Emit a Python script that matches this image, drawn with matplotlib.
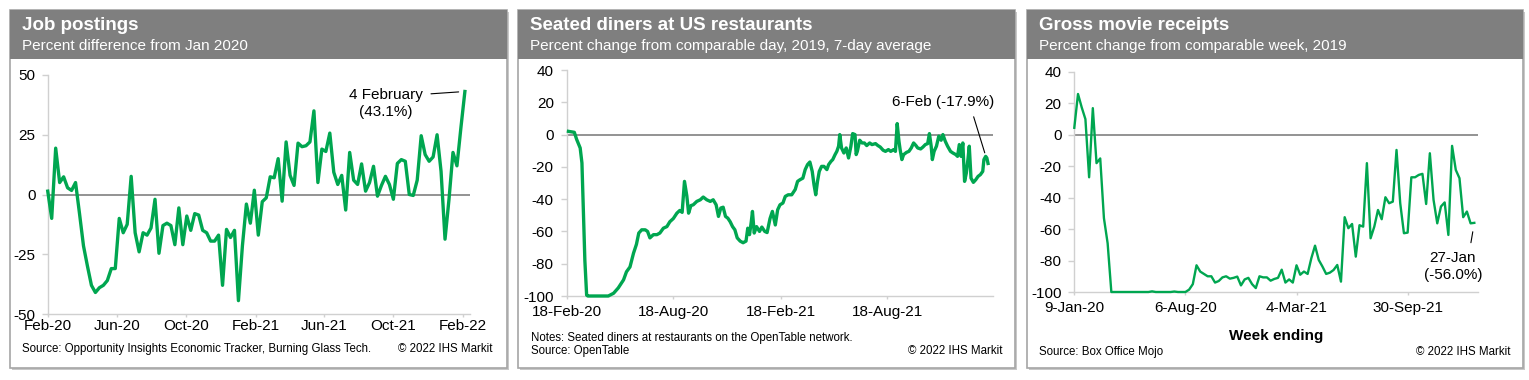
import numpy as np
import pandas as pd
import matplotlib
matplotlib.use("Agg")
import matplotlib.pyplot as plt
from matplotlib.patches import Rectangle

plt.rcParams['font.family'] = ['Liberation Sans', 'DejaVu Sans']

# ---------------- data ----------------
# Job postings, weekly, % difference from Jan 2020 (last point 4 Feb 2022)
job_vals = [1.4, -10, 19.4, 5, 7.4, 2.8, 1.7, 5, -8, -21.5, -30, -38, -41, -39, -38,
            -36, -31, -31, -10, -16, -12.5, 7.6, -16, -24, -16, -17, -14, -2, -24.6,
            -13, -12, -13, -21, -5.6, -21, -9, -15, -8, -8.6, -15, -16, -19.5, -19.5,
            -17, -38, -14.6, -18, -15, -44.4, -21.5, -4, -12, 1.8, -17, -3, -1.4, 7.4,
            7, 15, -2.8, 22, 8, 3.8, 21.5, 20, 20.4, 22, 35, 5, 19, 18, 25.7, 9.3, 4.2,
            8, -6.5, 17.6, 6, 4.2, 12.8, 1.4, 5, 11.8, -0.7, 3.8, 7.6, 4.2, -2, 13, 14.6,
            13.9, 0, -0.4, 6, 24.6, 16.7, 13.9, 15.7, 25, 9.7, -18.7, -2, 17.6, 12, 28,
            43.1]
job_last = '2022-02-04'
job_ticks = ['2020-02-01', '2020-06-01', '2020-10-01', '2021-02-01',
             '2021-06-01', '2021-10-01', '2022-02-01']
job_ticklabels = ['Feb-20', 'Jun-20', 'Oct-20', 'Feb-21', 'Jun-21', 'Oct-21', 'Feb-22']

# Seated diners, 7-day average, days since 18 Feb 2020
diner_start = '2020-02-18'
diner_day = [3, 13, 17, 23, 26, 28, 31, 34, 36, 71, 80, 88, 97, 102, 108, 114, 119, 123,
             128, 134, 138, 142, 148, 154, 159, 165, 171, 176, 182, 188, 193, 197, 201,
             205, 208, 212, 216, 222, 228, 233, 239, 245, 250, 255, 259, 263, 267, 271,
             275, 279, 283, 287, 291, 296, 301, 306, 309, 312, 315, 317, 320, 324, 329,
             333, 338, 342, 347, 351, 356, 360, 364, 369, 373, 378, 384, 390, 394, 398,
             403, 407, 411, 415, 419, 422, 425, 428, 431, 435, 439, 444, 447, 451, 454,
             458, 461, 464, 466, 469, 473, 477, 481, 485, 488, 492, 494, 496, 500, 504,
             508, 512, 517, 521, 527, 531, 535, 540, 544, 549, 553, 558, 561, 564, 567,
             569, 572, 575, 580, 584, 588, 592, 596, 599, 604, 608, 612, 616, 619, 622,
             624, 627, 631, 635, 639, 642, 646, 650, 655, 659, 664, 667, 670, 673, 676,
             679, 682, 685, 687, 690, 694, 698, 702, 706, 710, 712, 715, 717, 719]
diner_pct = [2, 1.4, -3, -8.3, -17.6, -42, -78, -99.4, -100, -100, -98.3, -95, -90, -85,
             -82, -73.5, -68, -61, -59, -59, -60, -64, -62, -62, -61, -58, -57, -54, -52,
             -48.7, -47, -48.2, -29, -38, -48.7, -44, -43.5, -41.4, -40.4, -38.7, -40.4,
             -41.4, -40.4, -43.5, -50.7, -45.5, -45, -50.7, -51.8, -54, -57, -59, -64,
             -66, -67, -66, -58, -62, -54, -47.6, -61, -57, -60, -57.3, -60, -60.7, -52,
             -47.6, -56, -46.6, -43.5, -42.4, -38.3, -37.3, -37.3, -34, -29, -28, -27,
             -21.7, -18.6, -17, -22.8, -31, -37.3, -29, -22.8, -19.7, -19.7, -21.7, -18.6,
             -16.6, -15.5, -12.4, -10.4, -7.2, 0, -8.3, -11.4, -8.3, -14.5, -7.2, 0.6, 0,
             -12.4, -10.4, -3.5, -5.2, -5.2, -6.8, -5.2, -6.2, -5.6, -6.8, -7.7, -9.7,
             -10.4, -9.3, -10.4, -9.3, -10.4, 6.8, -4.1, -9.3, -15.5, -12.4, -11, -10.4,
             -8.3, -5.2, -6.8, -8.3, -8.9, -7.7, -6.2, -5.6, 0.6, -7.2, -15.5, -10.4,
             -7.2, -1, -3.5, 0, -4.1, -7.2, -10.4, -11.4, -12.4, -13.5, -6.2, -13.5, -5.2,
             -29, -23.8, -14.5, -7.2, -27, -29.6, -28, -25.9, -24.8, -22.8, -15.5, -13.5,
             -14.5, -17.9]
diner_ticks = ['2020-02-18', '2020-08-18', '2021-02-18', '2021-08-18']
diner_ticklabels = ['18-Feb-20', '18-Aug-20', '18-Feb-21', '18-Aug-21']

# Gross movie receipts, weekly from 9 Jan 2020, % change from comparable week 2019
movie_start = '2020-01-09'
movie_vals = [4.5, 26, 17.5, 10, -27, 17, -18, -15, -53, -69, -100,
              -100, -100, -100, -100, -100, -100, -100, -100, -100, -100, -99.6, -100,
              -100, -100, -100, -100, -99.7, -100, -100,
              -100, -98.5, -95, -83, -87, -88.5, -90, -90, -94, -93, -90.7, -90, -91.5,
              -91, -90.2, -95.8, -92, -91, -95, -97.5, -90, -90.7, -90.7, -92.8, -91.7,
              -91, -85.8, -94,
              -92, -94, -83, -89, -87, -88.5, -78.5, -70.5, -79.6, -83.8, -88.5, -87.7,
              -86, -82.8, -93.4, -52.4, -59.4, -56.7, -77.5, -57.5, -58.4, -18, -65.8,
              -58.4, -47.8, -53.7, -39.7, -43.5, -42.5, -9.6, -43.5, -62.6, -62.2, -27,
              -27, -25.5, -24.8, -44, -11.7, -41.4, -56.3, -45.6, -43, -63.7, -7, -22.3,
              -27.6, -52.4, -48.8, -56.3, -56.0]
movie_ticks = ['2020-01-09', '2020-08-06', '2021-03-04', '2021-09-30']
movie_ticklabels = ['9-Jan-20', '6-Aug-20', '4-Mar-21', '30-Sep-21']

# ---------------- layout helpers ----------------
W, H = 1529, 380
GREEN = '#00a650'
HEADER = '#7f7f7f'
AXC = '#d0d0d0'

fig = plt.figure(figsize=(W / 100, H / 100), dpi=100)
fig.patch.set_facecolor('white')


def fx(x):
    return x / W


def fy(y):
    return 1 - y / H


def panel(x0, x1, title, subtitle, top=10, bottom=368, head=59):
    # shadow, frame, grey header (kept behind the axes)
    fig.add_artist(Rectangle((fx(x0 + 2), fy(bottom + 2)), fx(x1 - x0), (bottom - top) / H,
                             transform=fig.transFigure, facecolor='#c8c8c8',
                             edgecolor='none', zorder=-12))
    fig.add_artist(Rectangle((fx(x0), fy(bottom)), fx(x1 - x0), (bottom - top) / H,
                             transform=fig.transFigure, facecolor='white',
                             edgecolor='#a6a6a6', lw=1.2, zorder=-11))
    fig.add_artist(Rectangle((fx(x0), fy(head)), fx(x1 - x0), (head - top) / H,
                             transform=fig.transFigure, facecolor=HEADER,
                             edgecolor='none', zorder=-10))
    fig.text(fx(x0 + 12), fy(26), title, color='white', fontsize=13.5,
             fontweight='bold', va='center')
    fig.text(fx(x0 + 12), fy(46), subtitle, color='white', fontsize=11, va='center')


def make_axes(l, t, r, b, xpad):
    ax = fig.add_axes([fx(l), fy(b), fx(r - l), (b - t) / H])
    ax.set_facecolor('none')
    for s in ['top', 'right']:
        ax.spines[s].set_visible(False)
    for s in ['left', 'bottom']:
        ax.spines[s].set_color(AXC)
        ax.spines[s].set_linewidth(1.0)
    ax.tick_params(axis='y', length=4.3, width=1, color=AXC, pad=5, labelsize=11)
    ax.tick_params(axis='x', length=2.5, width=1, color=AXC, pad=xpad, labelsize=11)
    ax.axhline(0, color='#808080', lw=1.2, zorder=1)
    return ax


def set_yticks(ax, ticks):
    ax.set_yticks(ticks)
    ax.set_yticklabels([str(t) for t in ticks])


# ---------------- panel 1: job postings ----------------
panel(10, 507, 'Job postings', 'Percent difference from Jan 2020')
ax1 = make_axes(48.3, 75, 470, 314, xpad=1)
job_dates = pd.date_range(end=job_last, periods=len(job_vals), freq='7D')
ax1.plot(job_dates, job_vals, color=GREEN, lw=2.4, clip_on=False, zorder=3)
ax1.set_xlim(pd.Timestamp('2020-02-01'), pd.Timestamp('2022-02-13'))
ax1.set_ylim(-50, 50)
set_yticks(ax1, [-50, -25, 0, 25, 50])
ax1.set_xticks(pd.to_datetime(job_ticks))
ax1.set_xticklabels(job_ticklabels)
ax1.annotate('4 February\n(43.1%)', xy=(job_dates[-1], job_vals[-1]),
             xytext=(-57, -8.6), textcoords='offset points', ha='center', va='center',
             fontsize=11,
             arrowprops=dict(arrowstyle='-', color='black', lw=0.8,
                             relpos=(1, 0.8), shrinkA=4, shrinkB=4.5))
fig.text(fx(22), fy(349), 'Source: Opportunity Insights Economic Tracker, Burning Glass Tech.',
         fontsize=8.3, va='center')
fig.text(fx(493), fy(349), '\u00a9 2022 IHS Markit', fontsize=8.3, va='center', ha='right')

# ---------------- panel 2: seated diners ----------------
panel(518, 1015, 'Seated diners at US restaurants',
      'Percent change from comparable day, 2019, 7-day average')
ax2 = make_axes(566.7, 70, 993, 296, xpad=4)
d0 = pd.Timestamp(diner_start)
diner_dates = d0 + pd.to_timedelta(diner_day, unit='D')
ax2.plot(diner_dates, diner_pct, color=GREEN, lw=2.4, clip_on=False, zorder=3)
ax2.set_xlim(d0, d0 + pd.Timedelta(days=727.5))
ax2.set_ylim(-100, 40)
set_yticks(ax2, list(range(-100, 41, 20)))
ax2.set_xticks(pd.to_datetime(diner_ticks))
ax2.set_xticklabels(diner_ticklabels)
ax2.annotate('6-Feb (-17.9%)', xy=(diner_dates[-1], diner_pct[-1]),
             xytext=(-32.6, 44), textcoords='offset points', ha='center', va='center',
             fontsize=11,
             arrowprops=dict(arrowstyle='-', color='black', lw=0.8,
                             relpos=(0.78, 0), shrinkA=3.5, shrinkB=8))
fig.text(fx(530.7), fy(337.7), 'Notes: Seated diners at restaurants on the OpenTable network.',
         fontsize=8.3, va='center')
fig.text(fx(530.7), fy(351), 'Source: OpenTable', fontsize=8.3, va='center')
fig.text(fx(1002), fy(351), '\u00a9 2022 IHS Markit', fontsize=8.3, va='center', ha='right')

# ---------------- panel 3: movie receipts ----------------
panel(1027, 1523, 'Gross movie receipts', 'Percent change from comparable week, 2019')
ax3 = make_axes(1074.3, 72, 1478, 292, xpad=4)
m0 = pd.Timestamp(movie_start)
movie_dates = pd.date_range(m0, periods=len(movie_vals), freq='7D')
ax3.plot(movie_dates, movie_vals, color=GREEN, lw=1.7, clip_on=False, zorder=3)
ax3.set_xlim(m0, m0 + pd.Timedelta(weeks=109))
ax3.set_ylim(-100, 40)
set_yticks(ax3, list(range(-100, 41, 20)))
ax3.set_xticks(pd.to_datetime(movie_ticks))
ax3.set_xticklabels(movie_ticklabels)
ax3.annotate('27-Jan\n(-56.0%)', xy=(movie_dates[-1], movie_vals[-1]),
             xytext=(-15.5, -31.4), textcoords='offset points', ha='center', va='center',
             fontsize=11,
             arrowprops=dict(arrowstyle='-', color='black', lw=0.8,
                             relpos=(0.785, 1), shrinkA=4.3, shrinkB=6.5))
fig.text(fx(1276), fy(335.7), 'Week ending', fontsize=11, fontweight='bold',
         va='center', ha='center')
fig.text(fx(1039.3), fy(351.7), 'Source: Box Office Mojo', fontsize=8.3, va='center')
fig.text(fx(1511), fy(351.7), '\u00a9 2022 IHS Markit', fontsize=8.3, va='center', ha='right')

fig.savefig('out.png', dpi=100, facecolor='white')
